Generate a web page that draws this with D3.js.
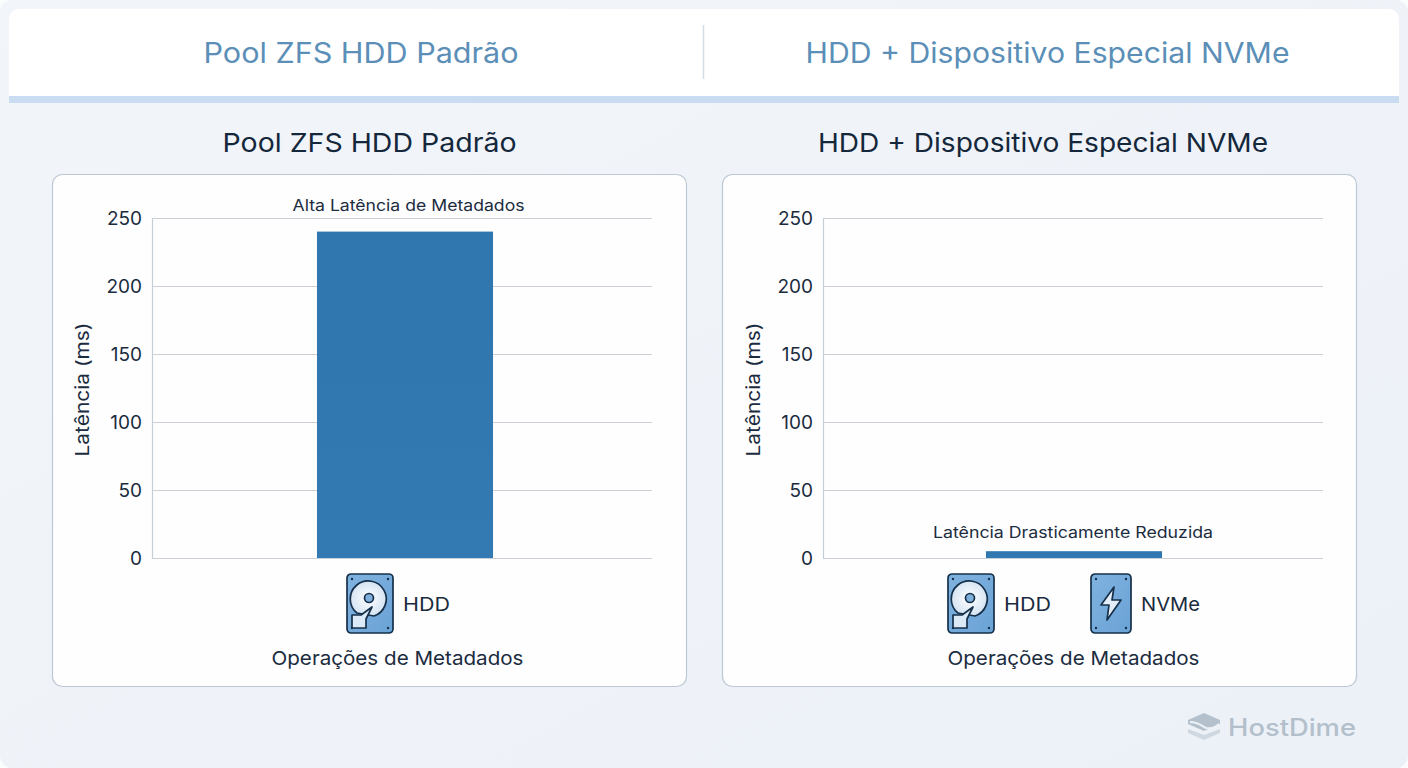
<!DOCTYPE html>
<html lang="pt">
<head>
<meta charset="utf-8">
<script src="https://cdn.jsdelivr.net/npm/d3@7/dist/d3.min.js"></script>
<style>
html,body{margin:0;padding:0;background:#fbfcfe;overflow:hidden}
svg{display:block}
text{font-family:Inter,"Open Sans",sans-serif}
</style>
</head>
<body>
<svg id="c" width="1408" height="768" viewBox="0 0 1408 768"></svg>
<script>
const headerTitles = ["Pool ZFS HDD Padrão", "HDD + Dispositivo Especial NVMe"];
const panelTitles = ["Pool ZFS HDD Padrão", "HDD + Dispositivo Especial NVMe"];
const category = "Operações de Metadados";
const latencyValues = [240, 5];
const barLabels = ["Alta Latência de Metadados", "Latência Drasticamente Reduzida"];
const yTicks = [0, 50, 100, 150, 200, 250];
const yLabel = "Latência (ms)";
const devices = [["HDD"], ["HDD", "NVMe"]];
const brand = "HostDime";

const svg = d3.select("#c");
const defs = svg.append("defs");
const bg = defs.append("linearGradient").attr("id","bg").attr("x1",0).attr("y1",0).attr("x2",1).attr("y2",1);
bg.append("stop").attr("offset",0).attr("stop-color","#f2f5fa");
bg.append("stop").attr("offset",1).attr("stop-color","#ecf1f7");
const bar = defs.append("linearGradient").attr("id","bar").attr("x1",0).attr("y1",0).attr("x2",0).attr("y2",1);
bar.append("stop").attr("offset",0).attr("stop-color","#2f75ae");
bar.append("stop").attr("offset",1).attr("stop-color","#3379b2");
const ic = defs.append("linearGradient").attr("id","ic").attr("x1",0).attr("y1",0).attr("x2",1).attr("y2",1);
ic.append("stop").attr("offset",0).attr("stop-color","#7fb2df");
ic.append("stop").attr("offset",1).attr("stop-color","#6ba3d6");
const disc = defs.append("radialGradient").attr("id","disc");
disc.append("stop").attr("offset",0).attr("stop-color","#ffffff");
disc.append("stop").attr("offset",1).attr("stop-color","#d5e4f3");

svg.append("rect").attr("width",1408).attr("height",768).attr("rx",12).attr("fill","url(#bg)");

// header
const DARK = "#16304a";
svg.append("path").attr("d","M9 96V19a10 10 0 0 1 10-10H1389a10 10 0 0 1 10 10V96Z").attr("fill","#ffffff");
svg.append("rect").attr("x",9).attr("y",96).attr("width",1390).attr("height",7).attr("fill","#c9dcf1");
svg.append("line").attr("x1",703.5).attr("x2",703.5).attr("y1",25).attr("y2",79).attr("stroke","#d3dde6").attr("stroke-width",1.5);

const T = (x,y,s,size,fill,anchor,len,weight) => {
  const t = svg.append("text").attr("x",x).attr("y",y).text(s).attr("font-size",size).attr("fill",fill)
    .attr("text-anchor",anchor||"middle").attr("font-weight",weight||400);
  if(len) t.attr("textLength",len).attr("lengthAdjust","spacingAndGlyphs");
  return t;
};
T(361,63,headerTitles[0],28,"#5b8fb8","middle",315);
T(1047.5,63,headerTitles[1],28,"#5b8fb8","middle",484);

function hddIcon(g){
  g.append("rect").attr("x",1).attr("y",1).attr("width",46).attr("height",59).attr("rx",4).attr("fill","url(#ic)").attr("stroke",DARK).attr("stroke-width",1.7);
  [[6,6],[42,6],[42,55],[6,55]].forEach(p=>g.append("circle").attr("cx",p[0]).attr("cy",p[1]).attr("r",1.2).attr("fill",DARK));
  g.append("path").attr("d","M11 40A18 18 0 1 1 28 43L11 40Z").attr("fill","url(#disc)").attr("stroke",DARK).attr("stroke-width",1.7);
  g.append("circle").attr("cx",23).attr("cy",25).attr("r",4.5).attr("fill","#7fb0dc").attr("stroke",DARK).attr("stroke-width",1.7);
  g.append("path").attr("d","M6 42H15L26 34L20 46V55H6Z").attr("fill","#dceaf7").attr("stroke",DARK).attr("stroke-width",1.7).attr("stroke-linejoin","round");
}
function nvmeIcon(g){
  g.append("rect").attr("x",1).attr("y",1).attr("width",40).attr("height",59).attr("rx",4).attr("fill","url(#ic)").attr("stroke",DARK).attr("stroke-width",1.7);
  [[6,6],[36,6],[36,55],[6,55]].forEach(p=>g.append("circle").attr("cx",p[0]).attr("cy",p[1]).attr("r",1.2).attr("fill",DARK));
  g.append("path").attr("d","M24 14L11 32H19L17 47L31 27H22Z").attr("fill","#e3eef8").attr("stroke",DARK).attr("stroke-width",1.7).attr("stroke-linejoin","round");
}

const layouts = [
  {card:52, gridL:152, bandL:155, title:369.5, titleLen:294, axisTitleX:84, xTitle:397.5, labelY:211, labelLen:232, labelX:408.5,
   icons:[{x:346,w:48,label:403,len:47}]},
  {card:722, gridL:823, bandL:824, title:1043, titleLen:450, axisTitleX:755, xTitle:1073.5, labelY:538, labelLen:280, labelX:1073,
   icons:[{x:947,w:48,label:1004,len:47},{x:1090,w:42,label:1141,len:59}]}
];
const PLOT_W = 500, PLOT_TOP = 218, PLOT_BOTTOM = 558;

layouts.forEach((L,i)=>{
  T(L.title,152,panelTitles[i],26,"#14273b","middle",L.titleLen);
  svg.append("rect").attr("x",L.card+.5).attr("y",174.5).attr("width",634).attr("height",512).attr("rx",10)
    .attr("fill","#fefefe").attr("stroke","#bcc8d4").attr("stroke-width",1.2);

  const y = d3.scaleLinear().domain([0,250]).range([PLOT_BOTTOM,PLOT_TOP]);
  const x = d3.scaleBand().domain([category]).range([L.bandL,L.bandL+PLOT_W]).paddingInner(0).paddingOuter(0.92);

  const yAxis = d3.axisLeft(y).tickValues(yTicks).tickSize(0).tickPadding(10);
  const ga = svg.append("g").attr("transform",`translate(${L.gridL},0)`).call(yAxis);
  ga.select(".domain").attr("stroke","#c6ced6").attr("stroke-width",1.2);
  ga.selectAll("text").attr("font-size",19).attr("fill","#1b2c3e").attr("font-family","Inter,sans-serif");

  const grid = d3.axisLeft(y).tickValues(yTicks).tickSize(-PLOT_W).tickFormat("");
  const gg = svg.append("g").attr("transform",`translate(${L.gridL},0)`).call(grid);
  gg.select(".domain").remove();
  gg.selectAll("line").attr("stroke","#cad0d6").attr("stroke-width",1);

  svg.append("rect").attr("x",x(category)).attr("y",y(latencyValues[i]))
    .attr("width",x.bandwidth()).attr("height",y(0)-y(latencyValues[i])).attr("fill","url(#bar)");

  T(L.labelX,L.labelY,barLabels[i],15.5,"#1b2c3e","middle",L.labelLen);

  svg.append("text").attr("transform",`translate(${L.axisTitleX+5},389.5) rotate(-90)`).text(yLabel)
    .attr("text-anchor","middle").attr("font-size",18.5).attr("fill","#1b2c3e")
    .attr("textLength",134).attr("lengthAdjust","spacingAndGlyphs");

  devices[i].forEach((d,k)=>{
    const p = L.icons[k];
    const g = svg.append("g").attr("transform",`translate(${p.x},573)`);
    (d==="HDD"?hddIcon:nvmeIcon)(g);
    T(p.label,610.5,d,19,"#1b2c3e","start",p.len);
  });
  T(L.xTitle,664.5,category,19,"#1b2c3e","middle",252);
});

// brand
const b = svg.append("g");
b.append("path").attr("d","M1204 713L1220 720V724L1204 731L1188 724V720Z").attr("fill","#b4c0cc");
b.append("path").attr("d","M1190 722C1198 722 1202 726 1206 728C1211 729 1216 727 1219 724").attr("fill","none").attr("stroke","#edf2f7").attr("stroke-width",2);
b.append("path").attr("d","M1188 729L1204 735L1220 729V733L1204 740L1188 733Z").attr("fill","#cfd8e1");
T(1228,736,brand,24,"#b3bfcb","start",128,500);
</script>
</body>
</html>
